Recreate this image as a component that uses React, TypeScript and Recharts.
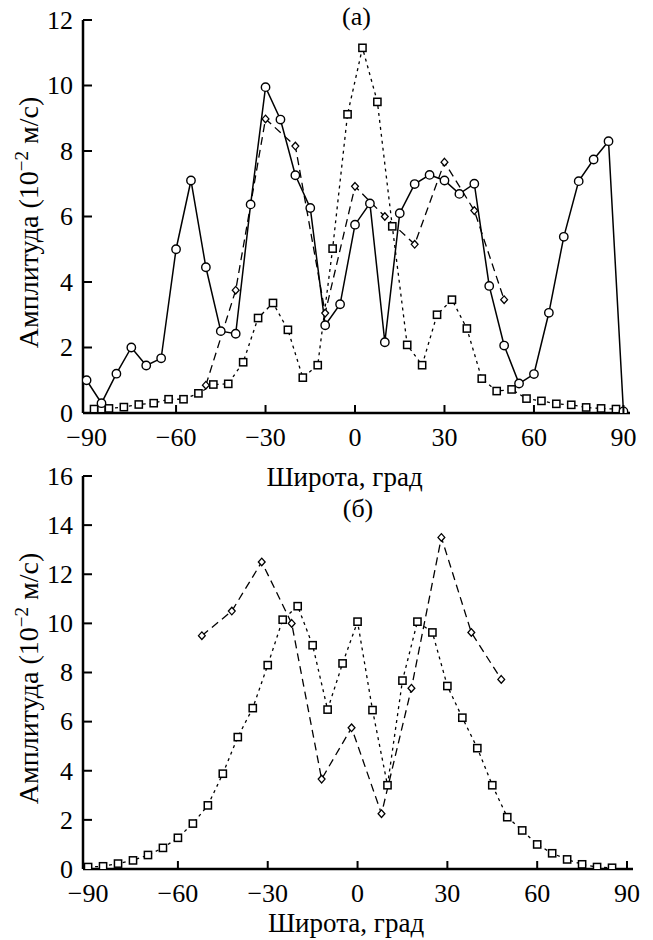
import React from 'react';
import { LineChart, Line, XAxis, YAxis } from 'recharts';

const FONT = '"Liberation Serif", "Times New Roman", Times, serif';

// ---------- Panel (а) ----------
const latA_circ = [-90, -85, -80, -75, -70, -65, -60, -55, -50, -45, -40, -35, -30, -25, -20, -15, -10, -5, 0, 5, 10, 15, 20, 25, 30, 35, 40, 45, 50, 55, 60, 65, 70, 75, 80, 85, 90];
const ampA_circ = [1.0, 0.3, 1.2, 2.0, 1.45, 1.67, 5.0, 7.1, 4.45, 2.5, 2.42, 6.37, 9.95, 8.96, 7.26, 6.26, 2.68, 3.32, 5.75, 6.4, 2.16, 6.1, 6.99, 7.27, 7.1, 6.69, 7.0, 3.88, 2.06, 0.9, 1.19, 3.06, 5.38, 7.08, 7.74, 8.3, 0.05];

const latA_sq = [-87.5, -85, -82.5, -77.5, -72.5, -67.5, -62.5, -57.5, -52.5, -47.5, -42.5, -37.5, -32.5, -27.5, -22.5, -17.5, -12.5, -7.5, -2.5, 2.5, 7.5, 12.5, 17.5, 22.5, 27.5, 32.5, 37.5, 42.5, 47.5, 52.5, 57.5, 62.5, 67.5, 72.5, 77.5, 82.5, 87.5];
const ampA_sq = [0.12, 0.12, 0.14, 0.18, 0.26, 0.3, 0.42, 0.42, 0.6, 0.87, 0.89, 1.55, 2.9, 3.36, 2.54, 1.08, 1.46, 5.02, 9.12, 11.15, 9.5, 5.7, 2.08, 1.46, 3.0, 3.46, 2.58, 1.05, 0.67, 0.72, 0.44, 0.37, 0.28, 0.25, 0.17, 0.14, 0.12];

const latA_dia = [-50, -40, -30, -20, -10, 0, 10, 20, 30, 40, 50];
const ampA_dia = [0.85, 3.75, 8.98, 8.15, 3.05, 6.92, 6.0, 5.15, 7.66, 6.18, 3.46];

// ---------- Panel (б) ----------
const latB_sq = [-90, -85, -80, -75, -70, -65, -60, -55, -50, -45, -40, -35, -30, -25, -20, -15, -10, -5, 0, 5, 10, 15, 20, 25, 30, 35, 40, 45, 50, 55, 60, 65, 70, 75, 80, 85];
const ampB_sq = [0.08, 0.11, 0.22, 0.35, 0.57, 0.86, 1.27, 1.85, 2.59, 3.88, 5.37, 6.55, 8.3, 10.15, 10.7, 9.11, 6.49, 8.37, 10.07, 6.47, 3.41, 7.67, 10.07, 9.63, 7.45, 6.16, 4.92, 3.41, 2.11, 1.57, 1.0, 0.64, 0.39, 0.19, 0.08, 0.05];

const latB_dia = [-52, -42, -32, -22, -12, -2, 8, 18, 28, 38, 48];
const ampB_dia = [9.5, 10.5, 12.5, 10.0, 3.66, 5.75, 2.25, 7.36, 13.5, 9.63, 7.72];

// ---------- ticks / labels ----------
const xTicks = [-90, -60, -30, 0, 30, 60, 90];
const yTicksA = [0, 2, 4, 6, 8, 10, 12];
const yTicksB = [0, 2, 4, 6, 8, 10, 12, 14, 16];
const xTitle = 'Широта, град';
const titleA = '(а)';
const titleB = '(б)';

const toPts = (xs: number[], ys: number[]) => xs.map((x, i) => ({ x, y: ys[i] }));

const fmt = (v: number) => (v < 0 ? `\u2212${Math.abs(v)}` : `${v}`);

const TICK_FS = 26;
const LABEL_FS = 28;
const XTITLE_FS = 27;
const TITLE_FS = 26;

const XTick = (props: any) => {
  const { x, y, payload } = props;
  const v = payload.value;
  return (
    <g>
      {v !== -90 && <line x1={x} y1={y} x2={x} y2={y - 8} stroke="#000" strokeWidth={2} />}
      <text x={x} y={y + 33} textAnchor="middle" fontSize={TICK_FS} fontFamily={FONT} fill="#000">
        {fmt(v)}
      </text>
    </g>
  );
};

const YTick = (props: any) => {
  const { x, y, payload } = props;
  const v = payload.value;
  return (
    <g>
      {v !== 0 && <line x1={x} y1={y} x2={x + 9} y2={y} stroke="#000" strokeWidth={2} />}
      <text x={x - 10} y={y} dy="0.34em" textAnchor="end" fontSize={TICK_FS} fontFamily={FONT} fill="#000">
        {fmt(v)}
      </text>
    </g>
  );
};

const CircleDot = (p: any) =>
  p.cx == null ? null : (
    <circle key={`c${p.index}`} cx={p.cx} cy={p.cy} r={4.2} fill="#fff" stroke="#000" strokeWidth={1.4} />
  );
const SquareDot = (p: any) =>
  p.cx == null ? null : (
    <rect key={`s${p.index}`} x={p.cx - 3.6} y={p.cy - 3.6} width={7.2} height={7.2} fill="#fff" stroke="#000" strokeWidth={1.5} />
  );
const DiamondDot = (p: any) =>
  p.cx == null ? null : (
    <path
      key={`d${p.index}`}
      d={`M${p.cx},${p.cy - 3.8}L${p.cx + 3.4},${p.cy}L${p.cx},${p.cy + 3.8}L${p.cx - 3.4},${p.cy}Z`}
      fill="#fff"
      stroke="#000"
      strokeWidth={1.3}
    />
  );

const YLabel = (props: any) => {
  const vb = props.viewBox || { x: 0, y: 0, width: 83, height: 400 };
  const cy = vb.y + vb.height / 2 + 6;
  return (
    <text transform={`translate(38, ${cy}) rotate(-90)`} textAnchor="middle" fontSize={LABEL_FS} fontFamily={FONT} fill="#000">
      Амплитуда (10
      <tspan dy={-10} fontSize={19}>
        {'\u22122'}
      </tspan>
      <tspan dy={10}> м/с)</tspan>
    </text>
  );
};

const makeXLabel = (title: string, titleY: number, labelDy: number) => (props: any) => {
  const vb = props.viewBox || { x: 83, y: 400, width: 547, height: 60 };
  const cx = vb.x + vb.width / 2;
  return (
    <g>
      <text x={cx - 12} y={vb.y + labelDy} textAnchor="middle" fontSize={XTITLE_FS} fontFamily={FONT} fill="#000">
        {xTitle}
      </text>
      <text x={cx} y={titleY} textAnchor="middle" fontSize={TITLE_FS} fontFamily={FONT} fill="#000">
        {title}
      </text>
    </g>
  );
};

const axisStroke = { stroke: '#000', strokeWidth: 2.5 };

export default function App() {
  const cA = toPts(latA_circ, ampA_circ);
  const sA = toPts(latA_sq, ampA_sq);
  const dA = toPts(latA_dia, ampA_dia);
  const sB = toPts(latB_sq, ampB_sq);
  const dB = toPts(latB_dia, ampB_dia);

  return (
    <div style={{ position: 'absolute', left: 0, top: 0, width: 653, height: 940, background: '#fff' }}>
      <div style={{ position: 'absolute', left: 0, top: 0 }}>
        <LineChart width={653} height={500} margin={{ top: 20, right: 23, left: 0, bottom: 0 }}>
          <XAxis
            type="number"
            dataKey="x"
            domain={[-91.2, 92.2]}
            ticks={xTicks}
            interval={0}
            tickSize={0}
            tickMargin={0}
            tick={<XTick />}
            axisLine={axisStroke}
            tickLine={false}
            height={87}
            allowDataOverflow
            label={{ content: makeXLabel(titleA, 25, 73) } as any}
          />
          <YAxis
            type="number"
            dataKey="y"
            domain={[0, 12]}
            ticks={yTicksA}
            interval={0}
            tickSize={0}
            tickMargin={0}
            tick={<YTick />}
            axisLine={axisStroke}
            tickLine={false}
            width={83}
            allowDataOverflow
            label={{ content: YLabel } as any}
          />
          <Line data={sA} dataKey="y" stroke="#000" strokeWidth={1.3} strokeDasharray="3 4" dot={SquareDot} isAnimationActive={false} />
          <Line data={dA} dataKey="y" stroke="#000" strokeWidth={1.3} strokeDasharray="8 5" dot={DiamondDot} isAnimationActive={false} />
          <Line data={cA} dataKey="y" stroke="#000" strokeWidth={1.5} dot={CircleDot} isAnimationActive={false} />
        </LineChart>
      </div>
      <div style={{ position: 'absolute', left: 0, top: 460 }}>
        <LineChart width={653} height={480} margin={{ top: 16, right: 20, left: 0, bottom: 0 }}>
          <XAxis
            type="number"
            dataKey="x"
            domain={[-91.7, 92]}
            ticks={xTicks}
            interval={0}
            tickSize={0}
            tickMargin={0}
            tick={<XTick />}
            axisLine={axisStroke}
            tickLine={false}
            height={71}
            allowDataOverflow
            label={{ content: makeXLabel(titleB, 57, 63) } as any}
          />
          <YAxis
            type="number"
            dataKey="y"
            domain={[0, 16]}
            ticks={yTicksB}
            interval={0}
            tickSize={0}
            tickMargin={0}
            tick={<YTick />}
            axisLine={axisStroke}
            tickLine={false}
            width={83}
            allowDataOverflow
            label={{ content: YLabel } as any}
          />
          <Line data={sB} dataKey="y" stroke="#000" strokeWidth={1.3} strokeDasharray="3 4" dot={SquareDot} isAnimationActive={false} />
          <Line data={dB} dataKey="y" stroke="#000" strokeWidth={1.3} strokeDasharray="8 5" dot={DiamondDot} isAnimationActive={false} />
        </LineChart>
      </div>
    </div>
  );
}
